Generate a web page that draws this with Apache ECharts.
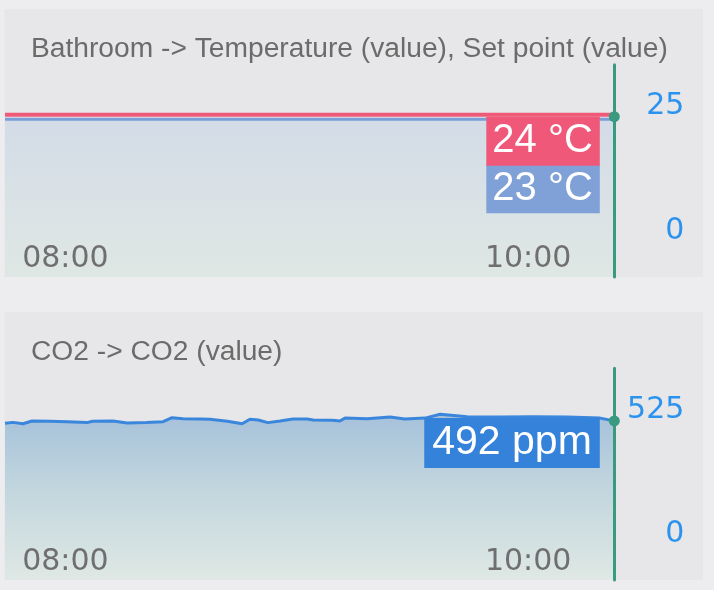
<!DOCTYPE html>
<html><head><meta charset="utf-8">
<script src="https://cdn.jsdelivr.net/npm/echarts@6/dist/echarts.min.js"></script>
<style>html,body{margin:0;padding:0;background:#ededef;}#c{width:714px;height:590px;}</style>
</head><body><div id="c"></div>
<script>
// ---------- data ----------
const day = '2024-01-15';
const panelTitles = ['Bathroom -> Temperature (value), Set point (value)', 'CO2 -> CO2 (value)'];
const xRange = ['07:44:20', '10:22:20'];
const xTickLabels = ['08:00', '10:00'];
const tempYTicks = [0, 25];
const co2YTicks = [0, 525];
const tempYRange = [-8.5, 34];
const co2YRange = [-178.5, 714];

const tempTimes = ['07:44:20', '08:00', '08:20', '08:40', '09:00', '09:20', '09:40', '10:00', '10:20', '10:22:20'];
const temperature = [23.1, 23.1, 23.1, 23.1, 23.1, 23.1, 23.1, 23.1, 23.1, 23.1];
const setPoint = [24, 24, 24, 24, 24, 24, 24, 24, 24, 24];

const co2Times = ['07:44:20', '07:46:25', '07:49:00', '07:51:20', '07:56:00', '08:00:25', '08:05:35', '08:07:00',
  '08:12:20', '08:16:00', '08:21:00', '08:25:20', '08:27:40', '08:30:30', '08:35:00', '08:37:30', '08:42:00',
  '08:45:50', '08:47:50', '08:50:00', '08:52:30', '08:55:40', '08:59:00', '09:02:40', '09:04:15', '09:09:20',
  '09:11:10', '09:12:30', '09:18:15', '09:24:10', '09:28:00', '09:33:15', '09:37:10', '09:44:10', '09:52:45',
  '10:01:15', '10:10:00', '10:18:40', '10:22:20'];
const co2 = [482, 486, 480, 492, 491, 489, 485, 491,
  492, 483, 486, 489, 506, 501, 500, 499, 491,
  480, 499, 496, 485, 492, 500, 500, 496, 495,
  492, 504, 501, 509, 500, 504, 520, 510, 509,
  510, 509, 504, 492];

// ---------- helpers ----------
function ts(s) { return new Date(day + 'T' + (s.length === 5 ? s + ':00' : s)).getTime(); }
function pad(n) { return (n < 10 ? '0' : '') + n; }
function hm(v) { const d = new Date(v); return pad(d.getHours()) + ':' + pad(d.getMinutes()); }
function zip(times, vals) { return times.map((t, i) => [ts(t), vals[i]]); }

const GREEN = '#3a9a80';
const PANEL = '#e7e7e9';
const lastIdxT = tempTimes.length - 1;
const lastIdxC = co2Times.length - 1;

function xAxis(gi) {
  return {
    type: 'value', gridIndex: gi, min: ts(xRange[0]), max: ts(xRange[1]), z: 10,
    axisLine: { show: false }, axisTick: { show: false }, splitLine: { show: false },
    axisLabel: {
      inside: true, customValues: xTickLabels.map(ts), formatter: hm,
      color: '#6f6f6f', fontFamily: 'DejaVu Sans', fontSize: 30, margin: 2.5
    }
  };
}
function yAxis(gi, range, ticks) {
  return {
    type: 'value', gridIndex: gi, position: 'right', min: range[0], max: range[1], z: 8,
    axisLine: { show: true, lineStyle: { color: GREEN, width: 3 } },
    axisTick: { show: false }, splitLine: { show: false },
    axisLabel: {
      customValues: ticks, color: '#2b93ee', fontFamily: 'DejaVu Sans', fontSize: 30,
      align: 'right', margin: 70, verticalAlign: 'bottom', lineHeight: 6
    }
  };
}
function valueLabel(bg, dy, unit, size, dist) {
  return {
    show: true, position: 'left', distance: dist, align: 'right', verticalAlign: 'top', offset: [0, dy],
    formatter: p => Math.round(p.value[1]) + unit,
    color: '#ffffff', backgroundColor: bg, fontFamily: 'Liberation Sans', fontSize: size,
    lineHeight: size + 1, padding: [4, 7, 4, 6]
  };
}

const chart = echarts.init(document.getElementById('c'), null, { renderer: 'canvas' });
const titleStyle = { fontFamily: 'Liberation Sans', fontSize: 28.2, fontWeight: 'normal', color: '#6b6b6b' };
chart.setOption({
  animation: false,
  backgroundColor: '#ededef',
  graphic: [
    { type: 'rect', z: -10, silent: true, shape: { x: 4.5, y: 9, width: 698.5, height: 268 }, style: { fill: PANEL } },
    { type: 'rect', z: -10, silent: true, shape: { x: 4.5, y: 312, width: 698.5, height: 268 }, style: { fill: PANEL } }
  ],
  title: [
    { text: panelTitles[0], left: 31, top: 35, padding: 0, textStyle: titleStyle },
    { text: panelTitles[1], left: 31, top: 338, padding: 0, textStyle: titleStyle }
  ],
  grid: [
    { left: 5, right: 99.7, top: 64.7, bottom: 313, outerBoundsMode: 'none' },
    { left: 5, right: 99.7, top: 368.3, bottom: 10, outerBoundsMode: 'none' }
  ],
  xAxis: [xAxis(0), xAxis(1)],
  yAxis: [yAxis(0, tempYRange, tempYTicks), yAxis(1, co2YRange, co2YTicks)],
  series: [
    {
      name: 'Temperature', type: 'line', xAxisIndex: 0, yAxisIndex: 0, data: zip(tempTimes, temperature),
      showSymbol: false, lineStyle: { color: '#7b9ed8', width: 3 }, itemStyle: { color: '#7b9ed8' }, z: 2,
      areaStyle: { origin: 'start', opacity: 1, color: new echarts.graphic.LinearGradient(0, 0, 0, 1, [
        { offset: 0, color: '#d3dce7' }, { offset: 1, color: '#dfe7e4' }]) }
    },
    {
      name: 'Set point', type: 'line', xAxisIndex: 0, yAxisIndex: 0, data: zip(tempTimes, setPoint),
      showSymbol: false, lineStyle: { color: '#ef5a79', width: 4 }, itemStyle: { color: '#ef5a79' }, z: 3
    },
    {
      type: 'scatter', xAxisIndex: 0, yAxisIndex: 0, z: 10,
      data: [[ts(tempTimes[lastIdxT]), setPoint[lastIdxT]]],
      symbolSize: 11, symbolOffset: [0, 2], itemStyle: { color: GREEN, opacity: 1 },
      label: valueLabel('#ef5878', 0, ' °C', 40, 9)
    },
    {
      type: 'scatter', xAxisIndex: 0, yAxisIndex: 0, z: 9,
      data: [[ts(tempTimes[lastIdxT]), temperature[lastIdxT]]],
      symbolSize: 1, itemStyle: { color: 'rgba(0,0,0,0)', opacity: 1 },
      label: valueLabel('#7fa1d7', 45, ' °C', 40, 14)
    },
    {
      name: 'CO2', type: 'line', xAxisIndex: 1, yAxisIndex: 1, data: zip(co2Times, co2),
      showSymbol: false, lineStyle: { color: '#3a86dc', width: 3 }, itemStyle: { color: '#3a86dc' }, z: 2,
      areaStyle: { origin: 'start', opacity: 1, color: new echarts.graphic.LinearGradient(0, 0, 0, 1, [
        { offset: 0, color: '#a5c1da' }, { offset: 0.45, color: '#c2d6de' }, { offset: 1, color: '#dfe8e4' }]) }
    },
    {
      type: 'scatter', xAxisIndex: 1, yAxisIndex: 1, z: 10,
      data: [[ts(co2Times[lastIdxC]), co2[lastIdxC]]],
      symbolSize: 11, itemStyle: { color: GREEN, opacity: 1 },
      label: Object.assign(valueLabel('#3582da', -3, ' ppm', 41, 9), { padding: [4, 8, 4, 8] })
    }
  ]
});
</script>
</body></html>
